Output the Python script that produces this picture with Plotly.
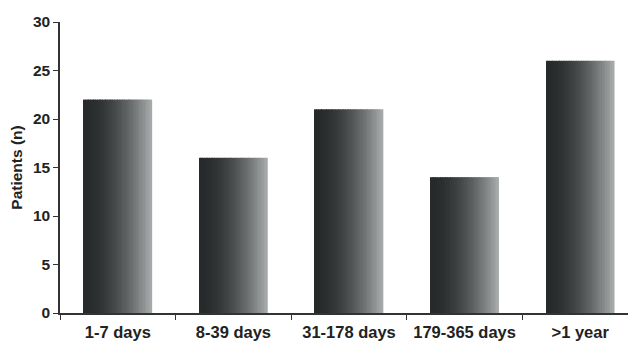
import plotly.graph_objects as go

categories = ["1-7 days", "8-39 days", "31-178 days", "179-365 days", ">1 year"]
patients = [22, 16, 21, 14, 26]
y_ticks = [0, 5, 10, 15, 20, 25, 30]

BAR_W = 0.59
N_STRIPS = 40
DARK = (38, 42, 42)
LIGHT = (165, 169, 169)

fig = go.Figure()
for i in range(N_STRIPS):
    t = i / (N_STRIPS - 1)
    f = t ** 1.8
    r, g, b = (int(DARK[k] + (LIGHT[k] - DARK[k]) * f) for k in range(3))
    sw = BAR_W / N_STRIPS
    fig.add_trace(go.Bar(
        x=categories, y=patients,
        width=[sw * 1.15] * len(categories),
        offset=[-BAR_W / 2 + i * sw] * len(categories),
        marker=dict(color=f"rgb({r},{g},{b})", line=dict(width=0)),
        showlegend=False, hoverinfo="skip",
    ))

FAM = "Liberation Sans, Arial, sans-serif"

fig.update_layout(
    width=628, height=334,
    margin=dict(l=52, r=0, t=14, b=29),
    paper_bgcolor="white", plot_bgcolor="white",
    barmode="overlay",
    font=dict(family=FAM, color="#222222"),
    xaxis=dict(
        type="category", range=[-0.5, 4.483],
        showline=True, linecolor="#333333", linewidth=1.5,
        ticks="outside", tickson="boundaries", ticklen=5, tickwidth=1.2, tickcolor="#333333",
        tickfont=dict(size=16.5, family=FAM, color="#222222", weight="bold"),
        ticklabelstandoff=3,
        showgrid=False, zeroline=False, automargin=False,
    ),
    yaxis=dict(
        range=[0, 30], tickvals=y_ticks,
        showline=True, linecolor="#333333", linewidth=1.5,
        ticks="outside", ticklen=5, tickwidth=1.2, tickcolor="#333333",
        tickfont=dict(size=15.5, family=FAM, color="#222222", weight="bold"),
        title=dict(text="Patients (n)", standoff=6,
                   font=dict(size=15.5, family=FAM, color="#222222", weight="bold")),
        showgrid=False, zeroline=False, automargin=False,
    ),
)

fig.write_html("out.html")
